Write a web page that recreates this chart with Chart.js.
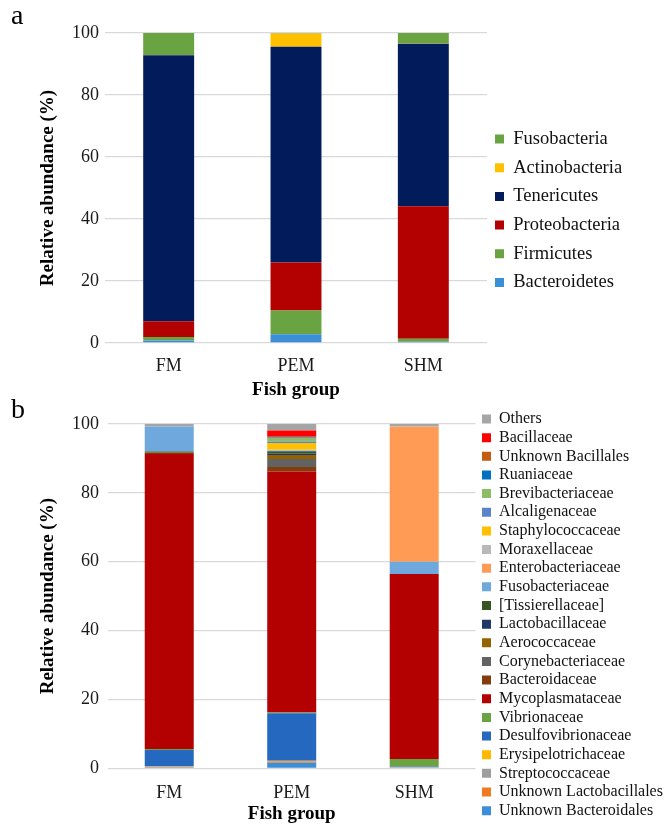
<!DOCTYPE html>
<html>
<head>
<meta charset="utf-8">
<title>Relative abundance by fish group</title>
<script src="https://cdn.jsdelivr.net/npm/chart.js@4.4.1/dist/chart.umd.min.js"></script>
<style>
  body { margin: 0; background: #fff; }
  #wrap { position: relative; width: 664px; height: 826px; overflow: hidden; }
  canvas { position: absolute; left: 0; }
  #phylumChart { top: 0; }
  #familyChart { top: 398px; }
</style>
</head>
<body>
<div id="wrap">
  <canvas id="phylumChart" width="664" height="400"></canvas>
  <canvas id="familyChart" width="664" height="428"></canvas>
</div>
<script>
// groups on the x axis
const groups = ["FM", "PEM", "SHM"];
const yTicks = [0, 20, 40, 60, 80, 100];

// panel a - phylum level (%), stacked bottom -> top
const bacteroidetes = [0.8, 2.8, 0.4];
const firmicutes = [1.1, 7.7, 1.0];
const proteobacteria = [5.1, 15.5, 42.7];
const tenericutes = [85.8, 69.6, 52.4];
const actinobacteria = [0.1, 4.2, 0.1];
const fusobacteria = [7.1, 0.2, 3.4];

// panel b - family level (%), stacked bottom -> top
const unknownBacteroidales = [0.2, 1.6, 0.2];
const unknownLactobacillales = [0.2, 0.4, 0.1];
const streptococcaceae = [0.2, 0.1, 0.1];
const erysipelotrichaceae = [0.1, 0.1, 0.0];
const desulfovibrionaceae = [4.6, 13.8, 0.1];
const vibrionaceae = [0.3, 0.2, 2.2];
const mycoplasmataceae = [85.7, 70.0, 53.7];
const bacteroidaceae = [0.4, 1.3, 0.0];
const corynebacteriaceae = [0.0, 2.3, 0.0];
const aerococcaceae = [0.0, 1.2, 0.0];
const lactobacillaceae = [0.0, 0.4, 0.0];
const tissierellaceae = [0.3, 0.7, 0.0];
const fusobacteriaceae = [7.3, 0.2, 3.6];
const enterobacteriaceae = [0.0, 0.1, 39.2];
const moraxellaceae = [0.0, 0.1, 0.2];
const staphylococcaceae = [0.0, 2.0, 0.0];
const alcaligenaceae = [0.0, 0.4, 0.0];
const brevibacteriaceae = [0.0, 1.1, 0.0];
const ruaniaceae = [0.0, 0.2, 0.0];
const unknownBacillales = [0.0, 0.1, 0.0];
const bacillaceae = [0.0, 1.8, 0.0];
const others = [0.7, 1.9, 0.6];

const serif = "'Liberation Serif', 'Times New Roman', serif";
Chart.defaults.font.family = serif;
Chart.defaults.color = "#1a1a1a";

// moves the legend to a fixed spot after layout (Excel style legend)
const legendPlace = {
  id: "legendPlace",
  afterLayout(chart, args, opts) {
    const lg = chart.legend;
    if (!lg || opts.boxX == null) return;
    const h = lg.height;
    lg.left = opts.boxX - opts.pad;
    lg.right = chart.width; // legend may be clamped narrower than its text
    lg.top = opts.firstY - opts.fs / 2 - opts.pad;
    lg.bottom = lg.top + h;
  }
};

function ds(label, data, color) {
  return { label: label, data: data, backgroundColor: color, borderWidth: 0 };
}

function makeChart(id, panel, datasets, cfg) {
  const ctx = document.getElementById(id).getContext("2d");
  const chart = new Chart(ctx, {
    type: "bar",
    data: { labels: groups, datasets: datasets },
    plugins: [legendPlace],
    options: {
      responsive: false,
      animation: false,
      events: [],
      layout: { padding: { left: 11, right: 0, top: 0, bottom: 0 } },
      datasets: { bar: { categoryPercentage: 1, barPercentage: 0.4 } },
      scales: {
        x: {
          stacked: true,
          grid: { display: false },
          border: { display: false },
          ticks: { padding: cfg.xPad, font: { size: 18 }, color: "#1a1a1a" },
          title: {
            display: true, text: "Fish group", color: "#000",
            font: { size: 19, weight: "bold", lineHeight: 1 },
            padding: { top: 0, bottom: cfg.titleBottom }
          },
          afterFit: s => { s.height = cfg.xHeight; }
        },
        y: {
          stacked: true,
          min: 0,
          max: 100,
          afterBuildTicks: s => { s.ticks = yTicks.map(v => ({ value: v })); },
          grid: { color: "#d9d9d9", lineWidth: 1.3, drawTicks: false },
          border: { display: false },
          ticks: { padding: cfg.yPad, font: { size: 18 }, color: "#1a1a1a" },
          title: {
            display: true, text: "Relative abundance (%)", color: "#000",
            font: { size: 19, weight: "bold", lineHeight: 1 },
            padding: { top: 28, bottom: 0 }
          },
          afterFit: s => { s.width = cfg.yWidth; }
        }
      },
      plugins: {
        tooltip: { enabled: false },
        title: {
          display: true, text: panel, align: "start", color: "#000",
          font: { size: 28, weight: "normal", lineHeight: cfg.titleLine / 28 },
          padding: 0
        },
        legend: {
          position: "right",
          align: "start",
          reverse: true,
          labels: {
            boxWidth: 9, boxHeight: 9,
            padding: cfg.legPad,
            font: { size: cfg.legFont },
            color: "#111"
          }
        },
        legendPlace: { boxX: cfg.boxX, firstY: cfg.firstY, pad: cfg.legPad, fs: cfg.legFont }
      }
    }
  });

  // pin the plot area's right edge
  const diff = chart.chartArea.right - cfg.plotRight;
  chart.options.layout.padding = { left: 11, right: diff, top: 0, bottom: 0 };
  chart.update();
  return chart;
}

makeChart("phylumChart", "a", [
  ds("Bacteroidetes", bacteroidetes, "#3b8fd7"),
  ds("Firmicutes", firmicutes, "#6aa342"),
  ds("Proteobacteria", proteobacteria, "#b30000"),
  ds("Tenericutes", tenericutes, "#021b5b"),
  ds("Actinobacteria", actinobacteria, "#ffc000"),
  ds("Fusobacteria", fusobacteria, "#6aa342")
], {
  xPad: 4, titleBottom: 0.5, xHeight: 57, yPad: 6, yWidth: 94, titleLine: 33,
  legPad: 10.2, legFont: 18.5, boxX: 495, firstY: 139, plotRight: 487
});

makeChart("familyChart", "b", [
  ds("Unknown Bacteroidales", unknownBacteroidales, "#3a8fd8"),
  ds("Unknown Lactobacillales", unknownLactobacillales, "#f07a22"),
  ds("Streptococcaceae", streptococcaceae, "#9e9e9e"),
  ds("Erysipelotrichaceae", erysipelotrichaceae, "#ffb800"),
  ds("Desulfovibrionaceae", desulfovibrionaceae, "#2468c0"),
  ds("Vibrionaceae", vibrionaceae, "#6aa342"),
  ds("Mycoplasmataceae", mycoplasmataceae, "#b30000"),
  ds("Bacteroidaceae", bacteroidaceae, "#843c0c"),
  ds("Corynebacteriaceae", corynebacteriaceae, "#636363"),
  ds("Aerococcaceae", aerococcaceae, "#946200"),
  ds("Lactobacillaceae", lactobacillaceae, "#1f3864"),
  ds("[Tissierellaceae]", tissierellaceae, "#375623"),
  ds("Fusobacteriaceae", fusobacteriaceae, "#6fa8dc"),
  ds("Enterobacteriaceae", enterobacteriaceae, "#ff9b54"),
  ds("Moraxellaceae", moraxellaceae, "#b8b8b8"),
  ds("Staphylococcaceae", staphylococcaceae, "#ffc000"),
  ds("Alcaligenaceae", alcaligenaceae, "#5b83cb"),
  ds("Brevibacteriaceae", brevibacteriaceae, "#8cbc66"),
  ds("Ruaniaceae", ruaniaceae, "#0070c0"),
  ds("Unknown Bacillales", unknownBacillales, "#c55a11"),
  ds("Bacillaceae", bacillaceae, "#ff0000"),
  ds("Others", others, "#a5a5a5")
], {
  xPad: 6, titleBottom: 2.5, xHeight: 57.7, yPad: 9, yWidth: 97, titleLine: 26,
  legPad: 2.65, legFont: 16, boxX: 482, firstY: 21, plotRight: 467
});
</script>
</body>
</html>
